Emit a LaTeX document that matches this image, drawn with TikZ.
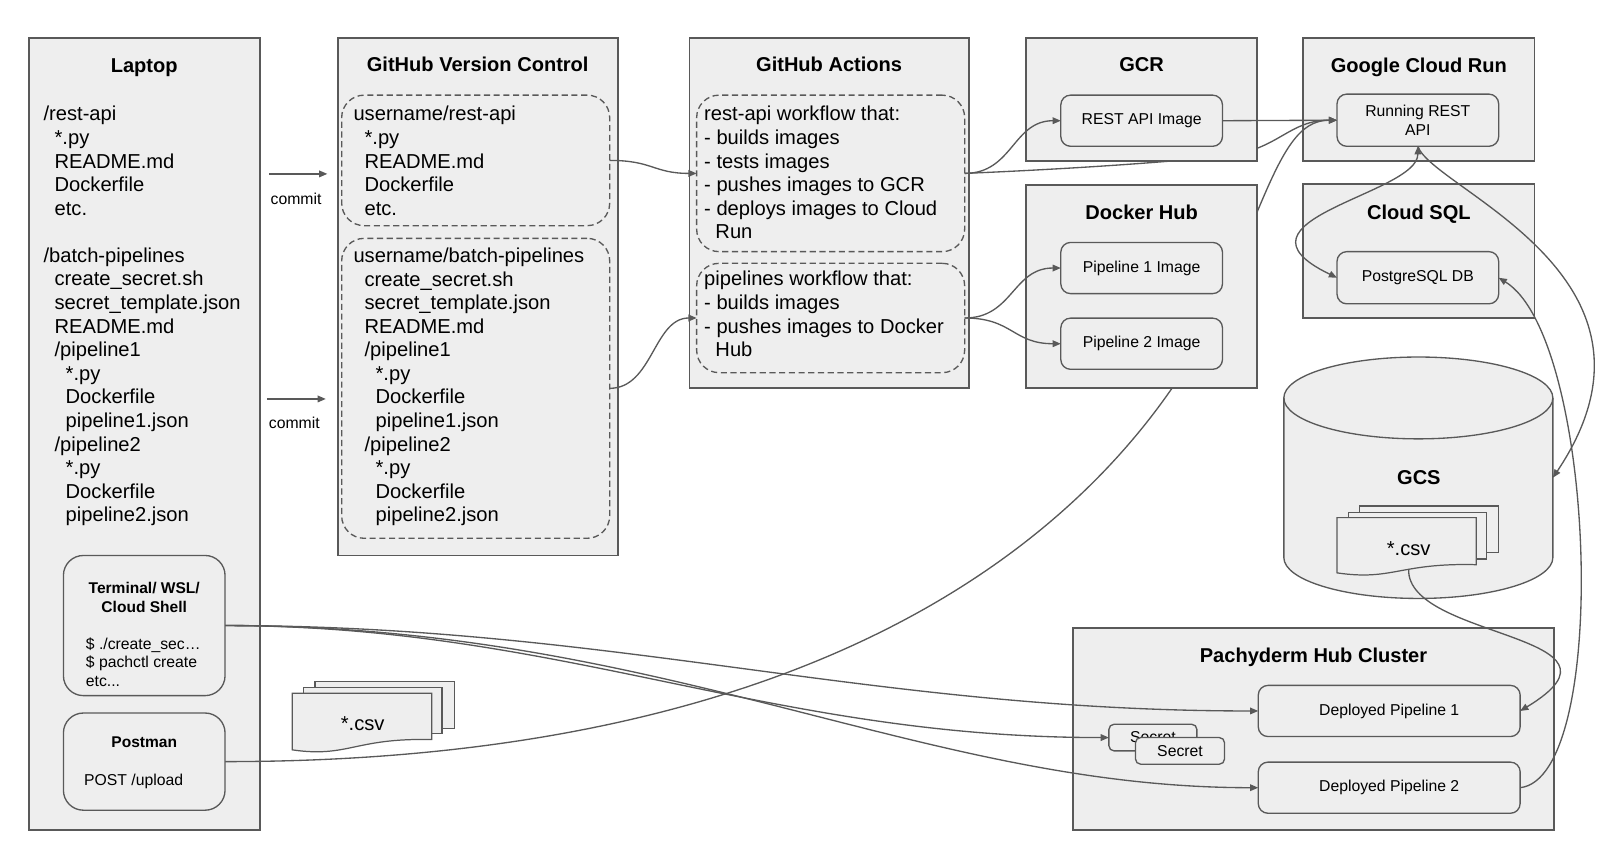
\documentclass[tikz,border=0pt]{standalone}
\usepackage{fontspec}
\setmainfont{Liberation Sans}
\usetikzlibrary{arrows.meta}
\definecolor{bordergray}{HTML}{595959}
\definecolor{boxfill}{HTML}{EEEEEE}
\pgfdeclarelayer{bglayer}
\pgfdeclarelayer{hiddenlayer}
\pgfdeclarelayer{coverlayer}
\pgfsetlayers{bglayer,hiddenlayer,coverlayer,main}
\tikzset{
  cont/.style={draw=bordergray,fill=boxfill,line width=1.9pt,inner sep=0pt,outer sep=0pt},
  ibox/.style={draw=bordergray,fill=boxfill,line width=1.3pt,rounded corners=9.5pt,inner sep=0pt,outer sep=0pt,align=center,font=\fontsize{15.4}{17.9}\selectfont},
  tbox/.style={draw=bordergray,fill=boxfill,line width=1.3pt,rounded corners=19.5pt,inner sep=0pt,outer sep=0pt},
  dbox/.style={draw=bordergray,fill=boxfill,line width=1.3pt,dash pattern=on 6pt off 3.5pt,rounded corners=22pt,inner sep=0pt,outer sep=0pt},
  ttl/.style={font=\bfseries\fontsize{19.6}{23}\selectfont,anchor=base,inner sep=0pt},
  btxt/.style={font=\fontsize{19.7}{23.06}\selectfont,align=left,anchor=north west,inner sep=0pt},
  stxt/.style={font=\fontsize{15.4}{18.4}\selectfont,inner sep=0pt},
  sbold/.style={font=\bfseries\fontsize{15.2}{18.5}\selectfont,inner sep=0pt},
  conn/.style={draw=bordergray,line width=1.3pt,-{Triangle[length=8pt,width=6.5pt]}},
  biconn/.style={draw=bordergray,line width=1.3pt,{Triangle[length=8pt,width=6.5pt]}-{Triangle[length=8pt,width=6.5pt]}},
  docshape/.style={draw=bordergray,fill=boxfill,line width=1.2pt},
}
\begin{document}
\begin{tikzpicture}[x=1pt,y=-1pt]
\useasboundingbox (0,0) rectangle (1567,833);

% ---------- background containers ----------
\begin{pgfonlayer}{bglayer}
\node[cont,minimum width=226pt,minimum height=774pt] (laptop) at (141,424) {};
\node[cont,minimum width=274pt,minimum height=506pt] (ghvc) at (467,290) {};
\node[cont,minimum width=273pt,minimum height=342pt] (gha) at (810.5,208) {};
\node[cont,minimum width=226pt,minimum height=120pt] (gcrun) at (1387,97) {};
\node[cont,minimum width=226pt,minimum height=131pt] (csql) at (1387,245.5) {};
\node[cont,minimum width=470pt,minimum height=197pt] (pach) at (1284,712.5) {};
% GCS cylinder
\draw[docshape,line width=1.3pt] (1255,389) -- (1255,545)
  .. controls (1255,567.1) and (1313.9,585) .. (1386.5,585)
  .. controls (1459.1,585) and (1518,567.1) .. (1518,545)
  -- (1518,389)
  .. controls (1518,366.9) and (1459.1,349) .. (1386.5,349)
  .. controls (1313.9,349) and (1255,366.9) .. (1255,389) -- cycle;
\draw[draw=bordergray,line width=1.3pt] (1255,389)
  .. controls (1255,411.1) and (1313.9,429) .. (1386.5,429)
  .. controls (1459.1,429) and (1518,411.1) .. (1518,389);
\end{pgfonlayer}
\coordinate (gcsR) at (1518,467);

\begin{pgfonlayer}{coverlayer}
\node[cont,minimum width=226pt,minimum height=120pt] (gcr) at (1116,97) {};
\node[cont,minimum width=226pt,minimum height=198pt] (dhub) at (1116,280) {};
\end{pgfonlayer}

% ---------- titles ----------
\node[ttl] (tlap) at (141,70.5) {Laptop};
\node[ttl] (tgh) at (467,70) {GitHub Version Control};
\node[ttl] (tga) at (810.5,70) {GitHub Actions};
\node[ttl] (tgcr) at (1116,70) {GCR};
\node[ttl] (trun) at (1387,70.5) {Google Cloud Run};
\node[ttl] (tdh) at (1116,215) {Docker Hub};
\node[ttl] (tsql) at (1387,215) {Cloud SQL};
\node[ttl] (tpach) at (1284,647.3) {Pachyderm Hub Cluster};
\node[ttl] (tgcs) at (1387,474) {GCS};

% ---------- laptop ----------
\node[btxt] (laptxt) at (42.4,101.8) {\strut/rest-api\\
\hspace*{10.8pt}*.py\\
\hspace*{10.8pt}README.md\\
\hspace*{10.8pt}Dockerfile\\
\hspace*{10.8pt}etc.\\
\strut\\
/batch-pipelines\\
\hspace*{10.8pt}create\_secret.sh\\
\hspace*{10.8pt}secret\_template.json\\
\hspace*{10.8pt}README.md\\
\hspace*{10.8pt}/pipeline1\\
\hspace*{21.6pt}*.py\\
\hspace*{21.6pt}Dockerfile\\
\hspace*{21.6pt}pipeline1.json\\
\hspace*{10.8pt}/pipeline2\\
\hspace*{21.6pt}*.py\\
\hspace*{21.6pt}Dockerfile\\
\hspace*{21.6pt}pipeline2.json};

\node[tbox,minimum width=158pt,minimum height=137pt] (term) at (141,611.5) {};
\node[sbold,align=center,anchor=north] (termttl) at (141,566.9) {\strut Terminal/ WSL/\\Cloud Shell};
\node[stxt,align=left,anchor=north west] (termtxt) at (83.8,621.5) {\strut\$ ./create\_sec…\\\$ pachctl create\\etc...};

\node[tbox,minimum width=158pt,minimum height=95pt] (postman) at (141,744.5) {};
\node[sbold,anchor=base] (postttl) at (141,731.1) {Postman};
\node[stxt,anchor=base west] (posttxt) at (82.1,767.9) {POST /upload};

% ---------- commit arrows ----------
\coordinate (c1a) at (263,170);
\coordinate (c1b) at (320,170);
\coordinate (c2a) at (261,390);
\coordinate (c2b) at (318.5,390);
\draw[conn] (c1a) -- (c1b);
\draw[conn] (c2a) -- (c2b);
\node[stxt,anchor=base] (commit1) at (289.4,200.2) {commit};
\node[stxt,anchor=base] (commit2) at (287.7,419.2) {commit};

% ---------- GitHub version control ----------
\node[dbox,minimum width=262pt,minimum height=127.6pt] (repo1) at (465,156.8) {};
\node[dbox,minimum width=262pt,minimum height=293.2pt] (repo2) at (465,379.6) {};
\node[btxt] (repo1txt) at (345.4,101.8) {\strut username/rest-api\\
\hspace*{10.8pt}*.py\\
\hspace*{10.8pt}README.md\\
\hspace*{10.8pt}Dockerfile\\
\hspace*{10.8pt}etc.};
\node[btxt] (repo2txt) at (345.4,240.2) {\strut username/batch-pipelines\\
\hspace*{10.8pt}create\_secret.sh\\
\hspace*{10.8pt}secret\_template.json\\
\hspace*{10.8pt}README.md\\
\hspace*{10.8pt}/pipeline1\\
\hspace*{21.6pt}*.py\\
\hspace*{21.6pt}Dockerfile\\
\hspace*{21.6pt}pipeline1.json\\
\hspace*{10.8pt}/pipeline2\\
\hspace*{21.6pt}*.py\\
\hspace*{21.6pt}Dockerfile\\
\hspace*{21.6pt}pipeline2.json};

% ---------- GitHub actions ----------
\node[dbox,minimum width=262pt,minimum height=153pt] (wf1) at (812,169.5) {};
\node[dbox,minimum width=262pt,minimum height=106.9pt] (wf2) at (812,310.85) {};
\node[btxt] (wf1txt) at (688.2,101.8) {\strut rest-api workflow that:\\
- builds images\\
- tests images\\
- pushes images to GCR\\
- deploys images to Cloud\\
\hspace*{11pt}Run};
\node[btxt] (wf2txt) at (688.2,263.2) {\strut pipelines workflow that:\\
- builds images\\
- pushes images to Docker\\
\hspace*{11pt}Hub};

% ---------- inner boxes ----------
\node[ibox,minimum width=158pt,minimum height=50pt] (rimg) at (1116,118) {REST API Image};
\node[ibox,minimum width=158pt,minimum height=51pt] (api) at (1386,117.5) {Running REST\\API};
\node[ibox,minimum width=158pt,minimum height=50pt] (p1img) at (1116,262) {Pipeline 1 Image};
\node[ibox,minimum width=158pt,minimum height=50pt] (p2img) at (1116,336) {Pipeline 2 Image};
\node[ibox,minimum width=158pt,minimum height=51pt] (pg) at (1386,271.5) {PostgreSQL DB};
\node[ibox,minimum width=256pt,minimum height=50pt] (dp1) at (1358,695) {Deployed Pipeline 1};
\node[ibox,minimum width=256pt,minimum height=50pt] (dp2) at (1358,770) {Deployed Pipeline 2};
\node[ibox,rounded corners=5pt,minimum width=86pt,minimum height=26pt] (sec1) at (1127,721) {Secret};
\node[ibox,rounded corners=5pt,minimum width=87pt,minimum height=26pt] (sec2) at (1153.5,734) {Secret};

% ---------- csv stacks ----------
\draw[docshape] (308,666) rectangle (444,712);
\draw[docshape] (297,672) rectangle (432,716.7);
\draw[docshape] (285.6,677.6) -- (422,677.6) -- (422,723) .. controls (347,721) and (340.2,741) .. (285.6,733) -- cycle;
\node[btxt,anchor=base] (csvlab1) at (354.5,714) {*.csv};

\draw[docshape] (1329,494.6) rectangle (1465,540);
\draw[docshape] (1318,501) rectangle (1453,546.5);
\draw[docshape] (1307,506) -- (1443,506) -- (1443,552) .. controls (1368,550) and (1361.4,568) .. (1307,560) -- cycle;
\node[btxt,anchor=base] (csvlab2) at (1377,543) {*.csv};
\coordinate (csvB) at (1377,556.5);

% ---------- hidden (behind GCR / Docker Hub) connectors ----------
\begin{pgfonlayer}{hiddenlayer}
\draw[conn] (wf1.east) .. controls +(107,-4.5) and (1150,158) .. (1200,152)
  .. controls (1250,146) and +(-47,0) .. (api.west);
\draw[conn] (postman.east) .. controls +(650,0) and (1150,470) .. (1229,207)
  .. controls (1254,147) and +(-37,0) .. (api.west);
\end{pgfonlayer}

% ---------- connectors ----------
\draw[conn] (repo1.east) .. controls +(42,0) and +(-42,0) .. (wf1.west);
\draw[conn] (repo2.east) .. controls +(42,0) and +(-42,0) .. (wf2.west);
\draw[conn] (wf1.east) .. controls +(47,0) and +(-47,0) .. (rimg.west);
\draw[conn] (rimg.east) -- (api.west);
\draw[conn] (wf2.east) .. controls +(47,0) and +(-47,0) .. (p1img.west);
\draw[conn] (wf2.east) .. controls +(47,0) and +(-47,0) .. (p2img.west);
\draw[biconn] (api.south) .. controls +(0,47) and (1190,215) .. (pg.west);
\draw[conn] (api.south) .. controls (1400,185) and (1650,270) .. (gcsR);
\draw[conn] (csvB) .. controls (1375,625) and (1610,620) .. (dp1.east);
\draw[conn] (dp2.east) .. controls (1575,760) and (1560,330) .. (pg.east);
\draw[conn] (term.east) .. controls +(380,0) and +(-380,0) .. (dp1.west);
\draw[conn] (term.east) .. controls +(330,0) and +(-334,0) .. (sec1.west);
\draw[conn] (term.east) .. controls +(430,0) and +(-330,0) .. (dp2.west);
\end{tikzpicture}
\end{document}
